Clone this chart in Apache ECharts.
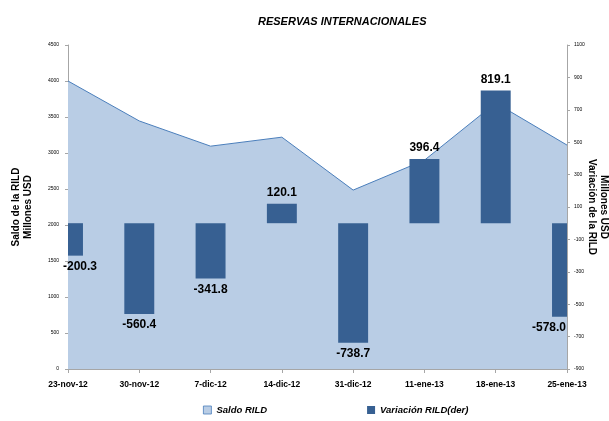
<!DOCTYPE html>
<html>
<head>
<meta charset="utf-8">
<script src="https://cdn.jsdelivr.net/npm/echarts@6/dist/echarts.min.js"></script>
<style>
  html, body { margin: 0; padding: 0; background: #fff; }
  #chart { width: 609px; height: 421px; }
</style>
</head>
<body>
<div id="chart"></div>
<script>
// fechas semanales
const fechas = ['23-nov-12', '30-nov-12', '7-dic-12', '14-dic-12', '31-dic-12', '11-ene-13', '18-ene-13', '25-ene-13'];
// saldo RILD (eje izq)
const saldo = [4000, 3445, 3095, 3220, 2485, 2900, 3695, 3110];
// variacion RILD (eje der)
const variacion = [-200.3, -560.4, -341.8, 120.1, -738.7, 396.4, 819.1, -578.0];

const fuente = "'Liberation Sans', Arial, sans-serif";
const azulBarra = '#376092';

const chart = echarts.init(document.getElementById('chart'));

// barras como serie custom para poder recortarlas en los bordes del area
function dibujarBarra(params, api) {
  const i = api.value(0);
  const v = api.value(1);
  const p0 = api.coord([i, 0]);
  const p1 = api.coord([i, v]);
  const w = api.size([1, 0])[0] * 0.42;
  const cs = params.coordSys;
  const rect = echarts.graphic.clipRectByRect(
    { x: p1[0] - w / 2, y: Math.min(p0[1], p1[1]), width: w, height: Math.abs(p1[1] - p0[1]) },
    { x: cs.x, y: cs.y, width: cs.width, height: cs.height }
  );
  // etiquetas de los extremos se corren hacia adentro
  let dx = 0;
  if (i === 0) dx = 12;
  if (i === variacion.length - 1) dx = -18;
  return {
    type: 'group',
    children: [
      { type: 'rect', shape: rect, style: { fill: azulBarra } },
      {
        type: 'text',
        x: p1[0] + dx,
        y: v < 0 ? p1[1] + 5 : p1[1] - 5,
        style: {
          text: v.toFixed(1),
          fill: '#000',
          font: 'bold 12px ' + fuente,
          align: 'center',
          verticalAlign: v < 0 ? 'top' : 'bottom'
        }
      }
    ]
  };
}

chart.setOption({
  animation: false,
  textStyle: { fontFamily: fuente },
  title: {
    text: 'RESERVAS INTERNACIONALES',
    left: 253,
    top: 11,
    textStyle: { fontSize: 11, fontWeight: 'bold', fontStyle: 'italic', color: '#000', fontFamily: fuente }
  },
  grid: { left: 68, right: 42, top: 45, bottom: 52, containLabel: false, outerBoundsMode: 'none' },
  legend: {
    bottom: 1,
    left: 198,
    itemGap: 100,
    itemWidth: 8,
    itemHeight: 8,
    icon: 'rect',
    textStyle: { fontSize: 9.5, fontWeight: 'bold', fontStyle: 'italic', color: '#000', fontFamily: fuente },
    data: [
      { name: 'Saldo RILD', itemStyle: { color: '#b9cde5', borderColor: '#4a7ebb', borderWidth: 0.8 } },
      { name: 'Variación RILD(der)', itemStyle: { color: azulBarra } }
    ]
  },
  xAxis: {
    type: 'category',
    data: fechas,
    boundaryGap: false,
    axisLine: { lineStyle: { color: '#a6a6a6' } },
    axisTick: { length: 4, lineStyle: { color: '#a6a6a6' } },
    axisLabel: { color: '#000', fontSize: 8.5, fontWeight: 'bold', margin: 11, interval: 0 }
  },
  yAxis: [
    {
      type: 'value',
      min: 0,
      max: 4500,
      interval: 500,
      name: 'Saldo de la RILD\nMillones USD',
      nameLocation: 'middle',
      nameGap: 34,
      nameRotate: 90,
      nameMoveOverlap: false,
      nameTextStyle: { fontSize: 10, fontWeight: 'bold', color: '#000', lineHeight: 12 },
      axisLine: { show: true, lineStyle: { color: '#a6a6a6' } },
      axisTick: { show: true, length: 3, lineStyle: { color: '#a6a6a6' } },
      axisLabel: { fontSize: 5, color: '#000', margin: 9, formatter: v => String(v) },
      splitLine: { show: false }
    },
    {
      type: 'value',
      min: -900,
      max: 1100,
      interval: 200,
      name: 'Millones USD\nVariación de la RILD',
      nameLocation: 'middle',
      nameGap: 19,
      nameRotate: -90,
      nameMoveOverlap: false,
      nameTextStyle: { fontSize: 10, fontWeight: 'bold', color: '#000', lineHeight: 12 },
      axisLine: { show: true, lineStyle: { color: '#a6a6a6' } },
      axisTick: { show: true, length: 3, lineStyle: { color: '#a6a6a6' } },
      axisLabel: { fontSize: 5, color: '#000', margin: 7, formatter: v => String(v) },
      splitLine: { show: false }
    }
  ],
  series: [
    {
      name: 'Saldo RILD',
      type: 'line',
      yAxisIndex: 0,
      data: saldo,
      symbol: 'none',
      lineStyle: { color: '#4a7ebb', width: 1 },
      itemStyle: { color: '#b9cde5' },
      areaStyle: { color: '#b9cde5', opacity: 1 },
      z: 1
    },
    {
      name: 'Variación RILD(der)',
      type: 'custom',
      yAxisIndex: 1,
      data: variacion.map((v, i) => [i, v]),
      encode: { x: 0, y: 1 },
      renderItem: dibujarBarra,
      itemStyle: { color: azulBarra },
      z: 2
    }
  ]
});
</script>
</body>
</html>
